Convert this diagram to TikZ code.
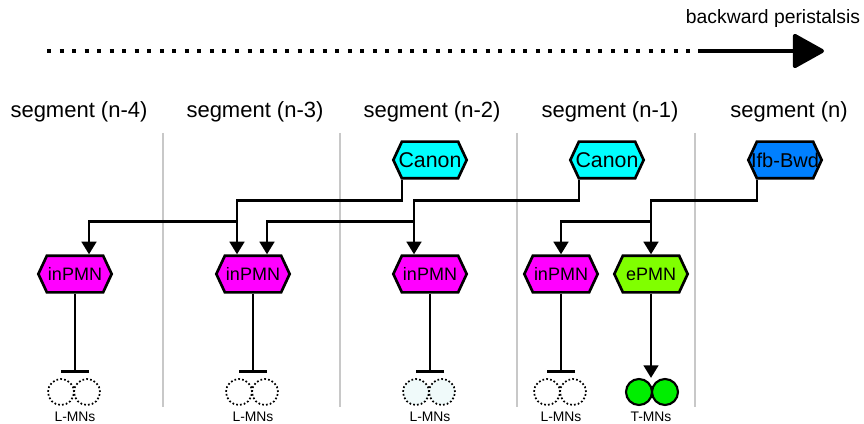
\documentclass[tikz,border=0pt]{standalone}
\usepackage{fontspec}
\setmainfont{Liberation Sans}
\usetikzlibrary{arrows.meta,positioning,shapes.symbols}

\definecolor{pmnMagenta}{HTML}{FF00FF}
\definecolor{canonCyan}{HTML}{00FFFF}
\definecolor{epmnGreen}{HTML}{80FF00}
\definecolor{ifbBlue}{HTML}{0080FF}
\definecolor{tmnGreen}{HTML}{00EE00}
\definecolor{divGray}{HTML}{C8C8C8}
\definecolor{lmnTint}{HTML}{F0FAFA}

\newcommand{\hexlabel}[1]{\makebox[0pt]{#1}}

\tikzset{
  hexa/.style={shape=signal, signal to=east and west, signal pointer angle=130,
    draw=black, line width=2pt, minimum width=55pt, minimum height=27.5pt,
    inner sep=0pt, font=\fontsize{13.5}{15}\selectfont},
  segname/.style={font=\fontsize{16.5}{19}\selectfont},
  cellname/.style={font=\fontsize{10.4}{12}\selectfont},
  lmn/.style={circle, draw=black, line width=1.3pt, dash pattern=on 1.3pt off 1.6pt,
    minimum size=19.5pt, inner sep=0pt},
  tmn/.style={circle, draw=black, line width=1.6pt, fill=tmnGreen,
    minimum size=19.5pt, inner sep=0pt},
  arr/.style={line width=2pt, -{Triangle[width=11pt,length=9.5pt]}},
  inhib/.style={line width=2pt, -{Bar[width=21pt,line width=2pt]}, shorten >=4pt},
  divider/.style={divGray, line width=1.3pt}
}

\begin{document}
\begin{tikzpicture}[x=0.75pt, y=-0.75pt]
\useasboundingbox (0,0) rectangle (864,424);

% direction of the wave
\node[font=\fontsize{14.5}{16}\selectfont] (wave) at (773,19) {backward peristalsis};
\coordinate (waveStart) at (47,51);
\coordinate (waveMid) at (698,51);
\coordinate (waveEnd) at (824,51);
\draw[line width=3pt, dash pattern=on 3pt off 6.4pt] (waveStart) -- (waveMid);
\draw[line width=3pt, -{Triangle[width=27pt,length=25pt,round]}] (waveMid) -- (waveEnd);

% segments
\node[segname] (segA) at (79,112) {segment (n-4)};
\node[segname] (segB) at (255,112) {segment (n-3)};
\node[segname] (segC) at (432,112) {segment (n-2)};
\node[segname] (segD) at (610,112) {segment (n-1)};
\node[segname] (segE) at (789,112) {segment (n)};

\foreach \x in {163,340,517,695}
  \draw[divider] (\x,133) -- (\x,407);

% command neurons
\node[hexa, fill=canonCyan, font=\fontsize{16}{18}\selectfont] (canonA) at (430,160) {\hexlabel{Canon}};
\node[hexa, fill=canonCyan, font=\fontsize{16}{18}\selectfont] (canonB) at (607,160) {\hexlabel{Canon}};
\node[hexa, fill=ifbBlue, font=\fontsize{15}{17}\selectfont] (ifb) at (785,160) {\hexlabel{Ifb-Bwd}};

% premotor neurons and their targets
\foreach \i/\x/\c in {A/75/white, B/253/white, C/430/lmnTint, D/561/white} {
  \node[hexa, fill=pmnMagenta] (pmn\i) at (\x,274) {\hexlabel{inPMN}};
  \node[lmn, fill=\c] (lmnL\i) at (\x-14,392) {};
  \node[lmn, fill=\c] (lmnR\i) at (\x+12,392) {};
  \node[cellname] (lbl\i) at (\x,417) {L-MNs};
  \draw[inhib] (pmn\i.south) -- (pmn\i.south |- lmnL\i.north);
}

\node[hexa, fill=epmnGreen] (epmn) at (651,274) {\hexlabel{ePMN}};
\node[tmn] (tmnL) at (639,392) {};
\node[tmn] (tmnR) at (665,392) {};
\node[cellname] (lblE) at (651,417) {T-MNs};
\draw[arr] (epmn.south) -- (epmn.south |- tmnL.north);

% wiring
\draw[arr] ([xshift=-21pt]canonA.south) -- ++(0,21) -| ([xshift=-12pt]pmnB.north);
\draw[arr] ([xshift=-12pt]pmnB.north) ++(0,-33) -| ([xshift=10.5pt]pmnA.north);
\draw[arr] ([xshift=-21pt]canonB.south) -- ++(0,21) -| ([xshift=-12pt]pmnC.north);
\draw[arr] ([xshift=-12pt]pmnC.north) ++(0,-33) -| ([xshift=10.5pt]pmnB.north);
\draw[arr] ([xshift=-21pt]ifb.south) -- ++(0,21) -| (epmn.north);
\draw[arr] (epmn.north) ++(0,-33) -| (pmnD.north);
\end{tikzpicture}
\end{document}
